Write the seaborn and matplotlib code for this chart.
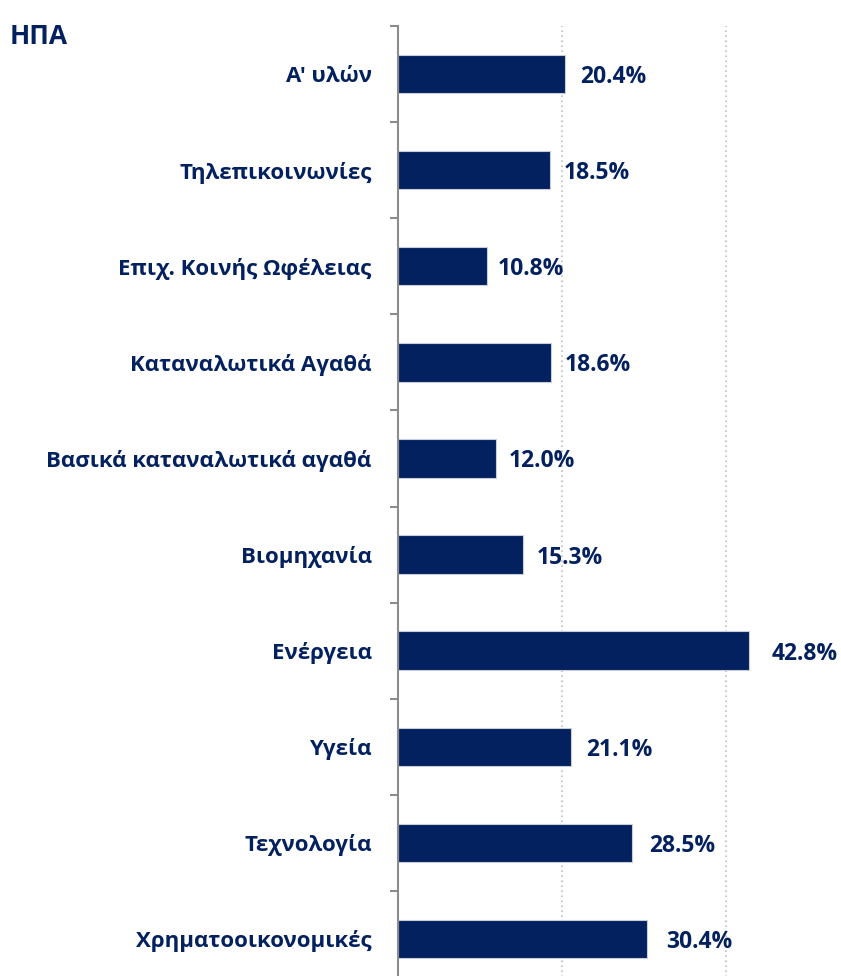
import matplotlib
matplotlib.use("Agg")
import matplotlib.pyplot as plt
import seaborn as sns
import pandas as pd
import numpy as np
from matplotlib.ticker import FixedLocator

categories = ["Α' υλών", "Τηλεπικοινωνίες", "Επιχ. Κοινής Ωφέλειας", "Καταναλωτικά Αγαθά",
              "Βασικά καταναλωτικά αγαθά", "Βιομηχανία", "Ενέργεια", "Υγεία",
              "Τεχνολογία", "Χρηματοοικονομικές"]
values = [20.4, 18.5, 10.8, 18.6, 12.0, 15.3, 42.8, 21.1, 28.5, 30.4]
title = "ΗΠΑ"

sns.set_theme(style="white")
plt.rcParams['font.family'] = ['Open Sans', 'DejaVu Sans']

navy = "#03205F"
df = pd.DataFrame({"cat": categories, "val": values})

fig = plt.figure(figsize=(8.41, 9.76), dpi=100)
W, H = 841, 976
PX_PER_UNIT = 8.2
ax = fig.add_axes([398 / W, 1 - 987 / H, (841 - 398) / W, (987 - 26) / H])
sns.barplot(data=df, y="cat", x="val", orient="h", color=navy, width=0.4,
            edgecolor="#c8cdd8", linewidth=0.8, saturation=1, ax=ax)

ax.set_xlim(0, 443 / PX_PER_UNIT)
ax.set_ylim(len(categories) - 0.5, -0.5)
ax.set_xlabel("")
ax.set_ylabel("")
ax.set_xticks([])
for gx in [20, 40]:
    ax.axvline(gx, color="#bfbfbf", linestyle=(0, (1, 2)), linewidth=1.2, zorder=0)

for s in ["top", "right", "bottom"]:
    ax.spines[s].set_visible(False)
ax.spines["left"].set_color("#8c8c8c")
ax.spines["left"].set_linewidth(1.5)

ax.tick_params(axis="y", which="major", length=0, pad=19)
ax.yaxis.set_minor_locator(FixedLocator(np.arange(-0.5, len(categories), 1.0)))
ax.tick_params(axis="y", which="minor", length=6, width=1.5, color="#8c8c8c", left=True)
for lab in ax.get_yticklabels():
    lab.set_fontweight("bold")
    lab.set_fontsize(16)
    lab.set_color(navy)
    lab.set_verticalalignment("center_baseline")

for bar, v in zip(ax.patches, values):
    gap_px = 7.5 + 0.36 * v
    ax.text(bar.get_width() + gap_px / PX_PER_UNIT, bar.get_y() + bar.get_height() / 2,
            f"{v:.1f}%", va="center_baseline", ha="left", fontsize=16.5,
            fontweight="bold", color=navy)

fig.text(10 / W, 1 - 37 / H, title, ha="left", va="center", fontsize=19,
         fontweight="bold", color=navy)

fig.savefig("out.png", dpi=100)
